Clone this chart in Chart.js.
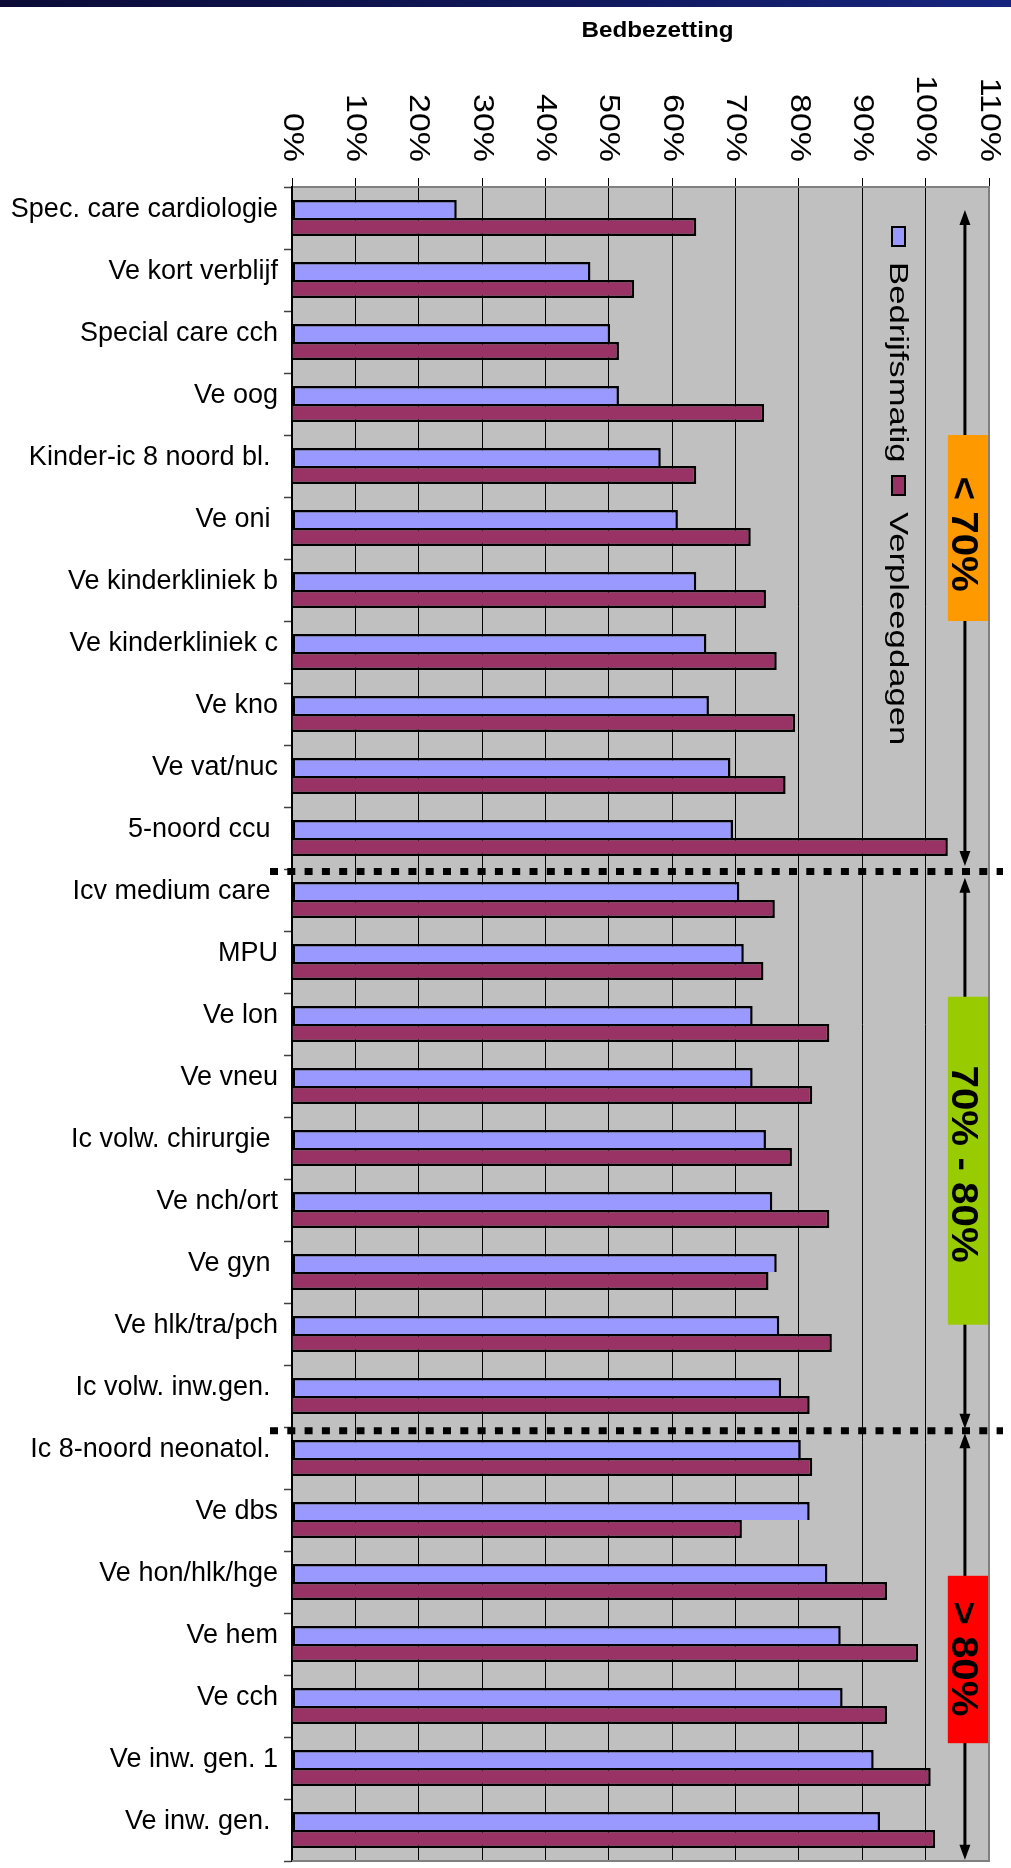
<!DOCTYPE html>
<html>
<head>
<meta charset="utf-8">
<title>Bedbezetting</title>
<script src="https://cdn.jsdelivr.net/npm/chart.js@4.4.1/dist/chart.umd.min.js"></script>
<style>
  html, body { margin: 0; padding: 0; background: #ffffff; }
  #wrap { position: absolute; left: 0; top: 0; width: 1011px; height: 1868px; }
  #topbar { position: absolute; left: 0; top: 0; width: 1011px; height: 7px;
            background: linear-gradient(90deg, #0b0b36 0%, #10185a 55%, #17257f 100%); }
</style>
</head>
<body>
<div id="wrap"><canvas id="chart" width="1011" height="1868"></canvas></div>
<div id="topbar"></div>
<script>
// Afdelingen, gesorteerd op bedrijfsmatige bezetting
const categories = [
  'Spec. care cardiologie', 'Ve kort verblijf', 'Special care cch', 'Ve oog',
  'Kinder-ic 8 noord bl. ', 'Ve oni ', 'Ve kinderkliniek b', 'Ve kinderkliniek c',
  'Ve kno', 'Ve vat/nuc', '5-noord ccu ', 'Icv medium care ', 'MPU', 'Ve lon',
  'Ve vneu', 'Ic volw. chirurgie ', 'Ve nch/ort', 'Ve gyn ', 'Ve hlk/tra/pch',
  'Ic volw. inw.gen. ', 'Ic 8-noord neonatol. ', 'Ve dbs', 'Ve hon/hlk/hge',
  'Ve hem', 'Ve cch', 'Ve inw. gen. 1', 'Ve inw. gen. '
];

// Bezetting in procenten
const bedrijfsmatig = [
  26.0, 47.1, 50.2, 51.6, 58.2, 60.9, 63.8, 65.4, 65.8, 69.2, 69.6, 70.6, 71.3, 72.7,
  72.7, 74.8, 75.8, 76.5, 76.9, 77.2, 80.3, 81.7, 84.5, 86.6, 86.9, 91.8, 92.8
];
const verpleegdagen = [
  63.8, 54.0, 51.6, 74.5, 63.8, 72.4, 74.8, 76.5, 79.4, 77.9, 103.5, 76.2, 74.4, 84.8,
  82.1, 78.9, 84.8, 75.2, 85.2, 81.7, 82.1, 71.0, 93.9, 98.8, 93.9, 100.8, 101.5
];

const seriesNames = ['Bedrijfsmatig', 'Verpleegdagen'];
const seriesColors = ['#9999FF', '#993366'];

// Waarde-as: 0% t/m 110%
const valueTicks = [0, 10, 20, 30, 40, 50, 60, 70, 80, 90, 100, 110];

// Bezettingsklassen
const bandLabels = ['< 70%', '70% - 80%', '> 80%'];
const bandColors = ['#FF9900', '#99CC00', '#FF0000'];

// Annotation geometry along the category axis (fractional category index)
const bandArrows = [[-0.13, 10.45], [10.64, 19.53], [19.60, 26.48]];
const bandBoxes = [[3.5, 6.5], [12.56, 17.85], [21.9, 24.6]];
const bandTextAt = [5.1, 15.26, 23.24];
const groupDividers = [10.54, 19.56];
// Annotation geometry along the value axis
const arrowAt = 106.2;
const boxFrom = 103.5;

const FONT = '"Liberation Sans", Arial, Helvetica, sans-serif';

// Grey plot background
const plotBackground = {
  id: 'plotBackground',
  beforeDraw(chart) {
    const { ctx, chartArea: a } = chart;
    ctx.save();
    ctx.fillStyle = '#C0C0C0';
    ctx.fillRect(a.left, a.top, a.right - a.left, a.bottom - a.top);
    ctx.restore();
  }
};

// Rotated value-axis labels, title, legend, group dividers and band annotations
const decorations = {
  id: 'decorations',
  afterDraw(chart) {
    const { ctx, chartArea: a } = chart;
    const xs = chart.scales.x;
    const ys = chart.scales.y;

    // plot frame (right and bottom)
    ctx.save();
    ctx.strokeStyle = '#808080';
    ctx.lineWidth = 2;
    ctx.beginPath();
    ctx.moveTo(a.right, a.top);
    ctx.lineTo(a.right, a.bottom);
    ctx.lineTo(a.left, a.bottom);
    ctx.stroke();
    ctx.restore();

    // title
    ctx.save();
    ctx.font = 'bold 22px ' + FONT;
    ctx.fillStyle = '#000';
    ctx.textAlign = 'center';
    ctx.textBaseline = 'alphabetic';
    ctx.translate((a.left + a.right) / 2 + 17, 37);
    ctx.scale(1.1, 1);
    ctx.fillText('Bedbezetting', 0, 0);
    ctx.restore();

    // value-axis tick labels, reading top to bottom
    const tickSize = 29;
    xs.ticks.forEach(t => {
      const px = xs.getPixelForValue(t.value);
      ctx.save();
      ctx.font = tickSize + 'px ' + FONT;
      ctx.fillStyle = '#000';
      ctx.textAlign = 'right';
      ctx.textBaseline = 'alphabetic';
      ctx.translate(px + 2 - 0.358 * tickSize, a.top - 25);
      ctx.rotate(Math.PI / 2);
      ctx.scale(1.17, 1);
      ctx.fillText(t.value + '%', 0, 0);
      ctx.restore();
    });

    // legend
    const keyY = [a.top + 40, a.top + 289];
    const textY = [a.top + 75, a.top + 325];
    chart.data.datasets.forEach((ds, i) => {
      ctx.save();
      ctx.fillStyle = ds.backgroundColor;
      ctx.strokeStyle = '#000';
      ctx.lineWidth = 2;
      ctx.fillRect(a.right - 97, keyY[i], 13, 19);
      ctx.strokeRect(a.right - 97, keyY[i], 13, 19);
      ctx.translate(a.right - 99, textY[i]);
      ctx.rotate(Math.PI / 2);
      ctx.scale(1.36, 1);
      ctx.font = '25.5px ' + FONT;
      ctx.fillStyle = '#000';
      ctx.textAlign = 'left';
      ctx.textBaseline = 'alphabetic';
      ctx.fillText(ds.label, 0, 0);
      ctx.restore();
    });

    // dotted dividers between the groups
    groupDividers.forEach(v => {
      const y = ys.getPixelForValue(v);
      ctx.save();
      ctx.strokeStyle = '#000';
      ctx.lineWidth = 7;
      ctx.setLineDash([8, 9.3]);
      ctx.beginPath();
      ctx.moveTo(a.left - 22, y);
      ctx.lineTo(a.right + 14, y);
      ctx.stroke();
      ctx.restore();
    });

    // double arrows with coloured labels
    const ax = xs.getPixelForValue(arrowAt);
    bandArrows.forEach((span, i) => {
      const y1 = ys.getPixelForValue(span[0]);
      const y2 = ys.getPixelForValue(span[1]);
      ctx.save();
      ctx.strokeStyle = '#000';
      ctx.fillStyle = '#000';
      ctx.lineWidth = 3;
      ctx.beginPath();
      ctx.moveTo(ax, y1 + 10);
      ctx.lineTo(ax, y2 - 10);
      ctx.stroke();
      const head = (tip, dir) => {
        ctx.beginPath();
        ctx.moveTo(ax, tip);
        ctx.lineTo(ax - 5.5, tip - dir * 15);
        ctx.lineTo(ax + 5.5, tip - dir * 15);
        ctx.closePath();
        ctx.fill();
      };
      head(y1, -1);
      head(y2, 1);

      const bx = xs.getPixelForValue(boxFrom);
      const by1 = ys.getPixelForValue(bandBoxes[i][0]);
      const by2 = ys.getPixelForValue(bandBoxes[i][1]);
      ctx.fillStyle = bandColors[i];
      ctx.fillRect(bx, by1, a.right - 1 - bx, by2 - by1);

      const size = 36;
      ctx.translate(ax, ys.getPixelForValue(bandTextAt[i]));
      ctx.rotate(Math.PI / 2);
      ctx.scale(1.12, 1);
      ctx.font = 'bold ' + size + 'px ' + FONT;
      ctx.fillStyle = '#000';
      ctx.textAlign = 'center';
      ctx.textBaseline = 'alphabetic';
      ctx.fillText(bandLabels[i], 0, 0.358 * size);
      ctx.restore();
    });
  }
};

new Chart(document.getElementById('chart'), {
  type: 'bar',
  data: {
    labels: categories,
    datasets: [
      {
        label: seriesNames[0],
        data: bedrijfsmatig,
        backgroundColor: seriesColors[0],
        borderColor: '#000',
        borderWidth: 2.5,
        borderSkipped: 'bottom'
      },
      {
        label: seriesNames[1],
        data: verpleegdagen,
        backgroundColor: seriesColors[1],
        borderColor: '#000',
        borderWidth: 2.5,
        borderSkipped: 'left'
      }
    ]
  },
  options: {
    indexAxis: 'y',
    responsive: false,
    animation: false,
    devicePixelRatio: 1,
    categoryPercentage: 0.58,
    barPercentage: 1.0,
    layout: { padding: { left: 0, top: 0, right: 22, bottom: 7 } },
    plugins: {
      legend: { display: false },
      title: { display: false },
      tooltip: { enabled: false }
    },
    scales: {
      x: {
        position: 'top',
        min: 0,
        max: 110,
        afterBuildTicks(scale) { scale.ticks = valueTicks.map(v => ({ value: v })); },
        afterFit(scale) {
          scale.height = 187;
          scale.paddingLeft = 0; scale.paddingRight = 0;
        },
        ticks: { display: false },
        grid: { color: '#000', lineWidth: 1, drawTicks: true, tickLength: 9, tickColor: '#000', tickWidth: 1 },
        border: { display: true, color: '#808080', width: 2 }
      },
      y: {
        afterFit(scale) {
          scale.width = 292;
          scale.paddingTop = 0; scale.paddingBottom = 0;
        },
        ticks: {
          autoSkip: false,
          color: '#000',
          padding: 6,
          labelOffset: -8,
          font: { family: FONT, size: 27 }
        },
        grid: { offset: true, drawOnChartArea: false, drawTicks: true, tickLength: 8, tickColor: '#404040', tickWidth: 1.5 },
        border: { display: true, color: '#000', width: 2 }
      }
    }
  },
  plugins: [plotBackground, decorations]
});
</script>
</body>
</html>
